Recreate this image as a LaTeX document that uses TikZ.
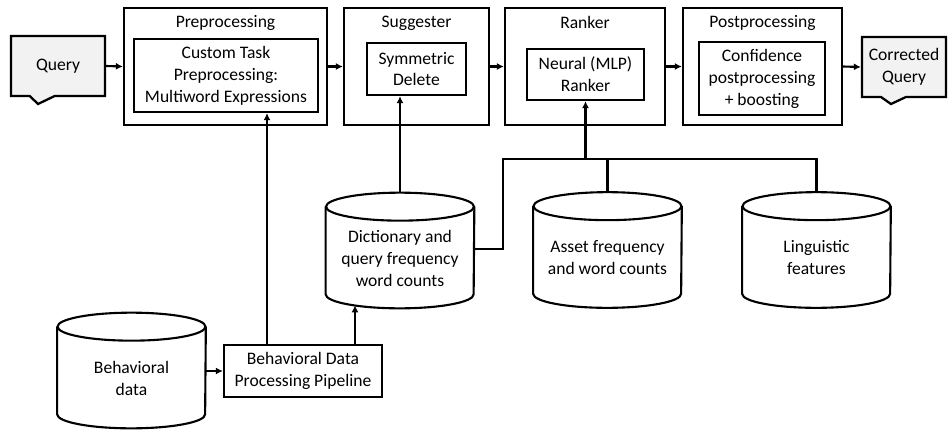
\documentclass[tikz,border=0pt]{standalone}
\usepackage{fontspec}
\setmainfont{Carlito}
\usetikzlibrary{positioning,shapes.callouts,arrows.meta}

% store labels sit a little below the middle of the cylinder
\newcommand{\dbtext}[1]{\raisebox{-5.4pt}[\height][\depth]{\begin{tabular}{@{}c@{}}#1\end{tabular}}}

\tikzset{
  stage/.style={draw, line width=1.3pt, inner sep=0pt},
  task/.style={draw, line width=1.3pt, align=center, inner sep=2pt},
  head/.style={inner sep=1pt},
  store/.style={minimum width=2.96cm, minimum height=2.3cm, inner sep=0pt},
  bubble/.style={draw, line width=1.3pt, fill=black!5, rectangle callout, align=center,
    callout pointer width=0.5cm, minimum height=1.2cm},
  flow/.style={line width=1.2pt, -{Latex[length=4pt,width=4pt]}},
  wire/.style={line width=1.2pt}
}

\begin{document}
\begin{tikzpicture}[x=0.02cm, y=-0.02cm, font=\fontsize{10}{12.5}\selectfont]
\useasboundingbox (0,0) rectangle (948,430);

% input / output
\node [bubble, minimum width=1.88cm, callout absolute pointer={(38,104)}] (query) at (58,66) {Query};
\node [bubble, minimum width=1.68cm, callout absolute pointer={(891,104)}] (corr) at (904,67) {Corrected\\Query};

% pipeline stages
\node [stage, minimum width=4.06cm, minimum height=2.34cm] (pre) at (225.5,66.5) {};
\node [head] (preT) at ([yshift=-0.32cm]pre.north) {Preprocessing};
\node [task, minimum width=3.68cm, minimum height=1.46cm] (cust) at (226,75.5)
  {Custom Task\\Preprocessing:\\Multiword Expressions};

\node [stage, minimum width=2.9cm, minimum height=2.34cm] (sug) at (416.5,66.5) {};
\node [head] (sugT) at ([yshift=-0.32cm]sug.north) {Suggester};
\node [task, minimum width=1.98cm, minimum height=1.04cm] (sym) at (416.5,69) {Symmetric\\Delete};

\node [stage, minimum width=3.2cm, minimum height=2.34cm] (rank) at (585,66.5) {};
\node [head] (rankT) at ([yshift=-0.32cm]rank.north) {Ranker};
\node [task, minimum width=2.34cm, minimum height=1.02cm] (neural) at (585.5,74.5) {Neural (MLP)\\Ranker};

\node [stage, minimum width=3.18cm, minimum height=2.34cm] (post) at (762.5,66.5) {};
\node [head] (postT) at ([yshift=-0.32cm]post.north) {Postprocessing};
\node [task, minimum width=2.52cm, minimum height=1.46cm] (conf) at (762,78.5)
  {Confidence\\postprocessing\\+ boosting};

\draw[flow] (query.east) -- (pre.west);
\draw[flow] (pre.east) -- (sug.west);
\draw[flow] (sug.east) -- (rank.west);
\draw[flow] (rank.east) -- (post.west);
\draw[flow] (post.east) -- (corr.west);

% data stores
\node [store] (dict) at (400,250.5) {\dbtext{Dictionary and\\query frequency\\word counts}};
\node [store] (asset) at (607.5,250) {\dbtext{Asset frequency\\and word counts}};
\node [store] (ling) at (816.5,250) {\dbtext{Linguistic\\features}};
\node [store] (beh) at (131.5,370.5) {\dbtext{Behavioral\\data}};

\foreach \s in {dict,asset,ling,beh} {
  \draw[wire] ([yshift=-0.28cm]\s.north west) -- ([yshift=0.28cm]\s.south west)
    arc[start angle=180, end angle=360, x radius=1.48cm, y radius=0.28cm]
    -- ([yshift=-0.28cm]\s.north east);
  \draw[wire] ([yshift=-0.28cm]\s.north) ellipse [x radius=1.48cm, y radius=0.28cm];
}

\node [task, minimum width=3.16cm, minimum height=1.04cm] (pipe) at (303,371)
  {Behavioral Data\\Processing Pipeline};

\coordinate (upA) at (267,0);
\coordinate (upB) at ([shift={(-45,-3)}]dict.south);
\coordinate (busL) at (503,159);
\coordinate (busB) at (503,249);

\draw[flow] (pipe.west -| beh.east) -- (pipe.west);
\draw[flow] (pipe.north -| upA) -- (cust.south -| upA);
\draw[flow] (pipe.north -| upB) -- (upB);
\draw[flow] (dict.north) -- (dict.north |- sym.south);

% ranker feature bus
\draw[wire] (busB -| dict.east) -- (busB) |- (busL) -| (ling.north);
\draw[wire] (asset.north) -- (asset.north |- busL);
\draw[flow] (neural.south |- busL) -- (neural.south);

\end{tikzpicture}
\end{document}
